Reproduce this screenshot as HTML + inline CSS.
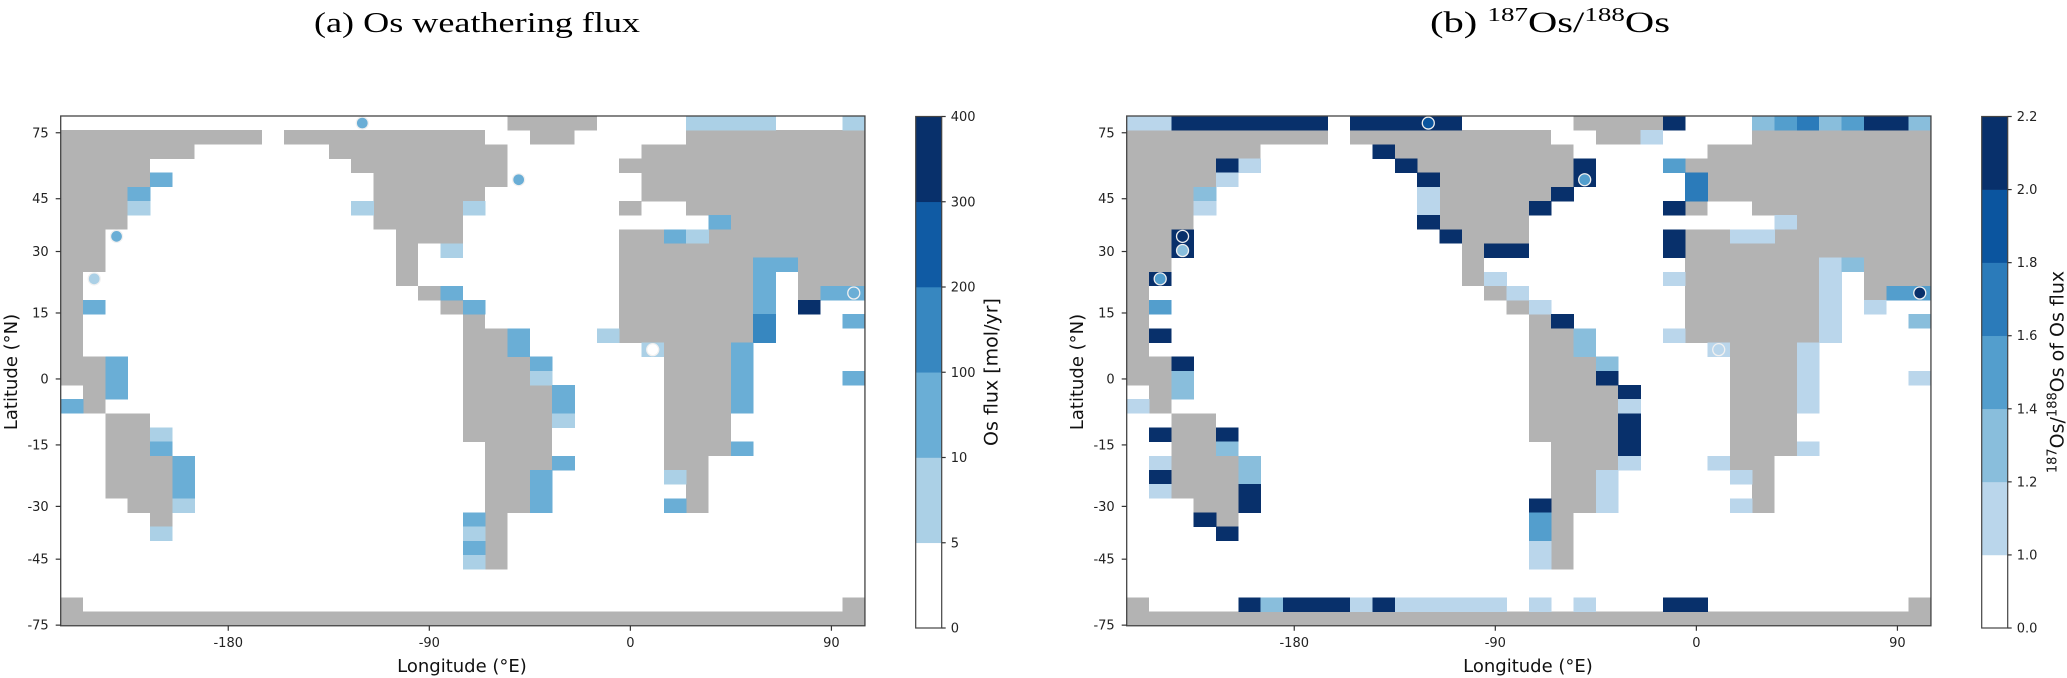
<!DOCTYPE html>
<html><head><meta charset="utf-8"><style>
html,body{margin:0;padding:0;background:#fff;}
svg{display:block;}
</style></head><body>
<svg id="fig" width="2067" height="678" viewBox="0 0 2067 678" xmlns="http://www.w3.org/2000/svg" font-family="'DejaVu Sans', 'Liberation Sans', sans-serif">
<text x="477" y="32" text-anchor="middle" font-family="'Liberation Serif', serif" font-size="29" textLength="326" lengthAdjust="spacingAndGlyphs">(a) Os weathering flux</text>
<text x="1430" y="32" font-family="'Liberation Serif', serif" font-size="30" textLength="240" lengthAdjust="spacingAndGlyphs">(b) <tspan font-size="20" dy="-11">187</tspan><tspan dy="11">Os/</tspan><tspan font-size="20" dy="-11">188</tspan><tspan dy="11">Os</tspan></text>
<g id="layer"></g>
</svg>
<script>
// ---- data ----
const landRanges = [
[0,20,23],
[1,0,8],[1,10,18],[1,21,22],[1,28,35],
[2,0,5],[2,12,19],[2,26,35],
[3,0,3],[3,13,19],[3,25,35],
[4,0,3],[4,14,19],[4,26,35],
[5,0,2],[5,14,18],[5,26,35],
[6,0,2],[6,14,17],[6,25,25],[6,28,35],
[7,0,2],[7,14,17],[7,30,35],
[8,0,1],[8,15,17],[8,25,26],[8,29,35],
[9,0,1],[9,15,15],[9,25,35],
[10,0,1],[10,15,15],[10,25,30],[10,33,35],
[11,0,0],[11,15,15],[11,25,30],[11,33,35],
[12,0,0],[12,16,16],[12,25,30],[12,33,33],
[13,0,0],[13,17,17],[13,25,30],
[14,0,0],[14,18,18],[14,25,30],
[15,0,0],[15,18,19],[15,25,30],
[16,0,0],[16,18,19],[16,27,29],
[17,0,1],[17,18,20],[17,27,29],
[18,0,1],[18,18,20],[18,27,29],
[19,1,1],[19,18,21],[19,27,29],
[20,1,1],[20,18,21],[20,27,29],
[21,2,3],[21,18,21],[21,27,29],
[22,2,3],[22,18,21],[22,27,29],
[23,2,3],[23,19,21],[23,27,29],
[24,2,4],[24,19,21],[24,27,28],
[25,2,4],[25,19,20],[25,28,28],
[26,2,4],[26,19,20],[26,28,28],
[27,3,4],[27,19,20],[27,28,28],
[28,4,4],[28,19,19],[29,19,19],[30,19,19],[31,19,19],
[34,0,0],[34,35,35],[35,0,35]
];
// panel a: [row, col, Os flux mol/yr]
const fluxCells = [
[0,28,7],[0,29,7],[0,30,7],[0,31,7],[0,35,7],
[4,4,50],[5,3,50],[6,3,7],[6,13,7],[6,18,7],[7,29,50],[8,27,50],[8,28,7],[9,17,7],
[10,31,50],[10,32,50],[11,31,50],[12,17,50],[12,31,50],[12,34,50],[12,35,50],
[13,1,50],[13,18,50],[13,31,50],[13,33,350],[14,31,150],[14,35,50],
[15,20,50],[15,24,7],[15,31,150],[16,20,50],[16,26,7],[16,30,50],
[17,2,50],[17,21,50],[17,30,50],[18,2,50],[18,21,7],[18,30,50],[18,35,50],
[19,2,50],[19,22,50],[19,30,50],[20,0,50],[20,22,50],[20,30,50],[21,22,7],
[22,4,7],[23,4,50],[23,30,50],[24,5,50],[24,22,50],[25,5,50],[25,21,50],[25,27,7],
[26,5,50],[26,21,50],[27,5,7],[27,21,50],[27,27,50],[28,18,50],[29,4,7],[29,18,7],[30,18,50],[31,18,7]
];
// panel b: [row, col, 187Os/188Os]
const ratioCells = [
[0,0,1.1],[0,1,1.1],[0,2,2.1],[0,3,2.1],[0,4,2.1],[0,5,2.1],[0,6,2.1],[0,7,2.1],[0,8,2.1],
[0,10,2.1],[0,11,2.1],[0,12,2.1],[0,13,2.1],[0,14,2.1],[0,24,2.1],[0,28,1.3],[0,29,1.5],[0,30,1.7],
[0,31,1.3],[0,32,1.5],[0,33,2.1],[0,34,2.1],[0,35,1.3],
[1,23,1.1],[2,11,2.1],[3,4,2.1],[3,5,1.1],[3,12,2.1],[3,20,2.1],[3,24,1.5],
[4,4,1.1],[4,13,2.1],[4,20,2.1],[4,25,1.7],[5,3,1.3],[5,13,1.1],[5,19,2.1],[5,25,1.7],
[6,3,1.1],[6,13,1.1],[6,18,2.1],[6,24,2.1],[7,13,2.1],[7,29,1.1],
[8,2,2.1],[8,14,2.1],[8,24,2.1],[8,27,1.1],[8,28,1.1],[9,2,2.1],[9,16,2.1],[9,17,2.1],[9,24,2.1],
[10,31,1.1],[10,32,1.3],[11,1,2.1],[11,16,1.1],[11,24,1.1],[11,31,1.1],
[12,17,1.1],[12,31,1.1],[12,34,1.5],[12,35,1.5],[13,1,1.5],[13,18,1.1],[13,31,1.1],[13,33,1.1],
[14,19,2.1],[14,31,1.1],[14,35,1.3],[15,1,2.1],[15,20,1.3],[15,24,1.1],[15,31,1.1],
[16,20,1.3],[16,26,1.1],[16,30,1.1],[17,2,2.1],[17,21,1.3],[17,30,1.1],
[18,2,1.3],[18,21,2.1],[18,30,1.1],[18,35,1.1],[19,2,1.3],[19,22,2.1],[19,30,1.1],
[20,0,1.1],[20,22,1.1],[20,30,1.1],[21,22,2.1],[22,1,2.1],[22,4,2.1],[22,22,2.1],
[23,4,1.3],[23,22,2.1],[23,30,1.1],[24,1,1.1],[24,5,1.3],[24,22,1.1],[24,26,1.1],
[25,1,2.1],[25,5,1.3],[25,21,1.1],[25,27,1.1],[26,1,1.1],[26,5,2.1],[26,21,1.1],
[27,5,2.1],[27,18,2.1],[27,21,1.1],[27,27,1.1],[28,3,2.1],[28,18,1.5],[29,4,2.1],[29,18,1.5],
[30,18,1.1],[31,18,1.1],
[34,5,2.1],[34,6,1.3],[34,7,2.1],[34,8,2.1],[34,9,2.1],[34,10,1.1],[34,11,2.1],
[34,12,1.1],[34,13,1.1],[34,14,1.1],[34,15,1.1],[34,16,1.1],[34,18,1.1],[34,20,1.1],[34,24,2.1],[34,25,2.1]
];
// site markers: [row, col, value]
const fluxSites = [[0,13,50],[4,20,50],[8,2,50],[11,1,7],[16,26,0],[12,35,50]];
const ratioSites = [[0,13,1.9],[8,2,2.1],[9,2,1.3],[11,1,1.5],[4,20,1.5],[16,26,1.1],[12,35,2.1]];
const fluxBounds = [0,5,10,100,200,300,400];
const fluxColors = ['#ffffff','#abd0e6','#6aaed6','#3787c0','#105ba4','#08306b'];
const ratioBounds = [0.0,1.0,1.2,1.4,1.6,1.8,2.0,2.2];
const ratioColors = ['#ffffff','#bad6eb','#89bedc','#539ecd','#2b7bba','#0b559f','#08306b'];
const lonTicks = [-180,-90,0,90];
const latTicks = [75,45,30,15,0,-15,-30,-45,-75];

// ---- drawing ----
const NS='http://www.w3.org/2000/svg';
const layer=document.getElementById('layer');
function mk(tag,attrs,parent){const e=document.createElementNS(NS,tag);for(const k in attrs)e.setAttribute(k,attrs[k]);(parent||layer).appendChild(e);return e;}
const T=116, CW=22.34, RH=14.16, NC=36, NR=36;
function colorFor(v,b,c){for(let i=0;i<c.length;i++){if(v>=b[i]&&v<b[i+1])return c[i];}return c[c.length-1];}

function panel(ox,key,cells,sites,bounds,colors,cbx,cbLabel){
  const L=60.7+ox;
  const xCol=c=>L+c*CW, yRow=r=>T+r*RH;
  const xLon=lon=>L+(lon+255)/10*CW;
  const yLat=lat=>T+(18.57-18*Math.sin(lat*Math.PI/180))*RH;
  const g=mk('g',{'shape-rendering':'crispEdges'});
  
  
  landRanges.forEach(([r,c0,c1])=>{
    const e=mk('rect',{x:xCol(c0),y:yRow(r),width:(c1-c0+1)*CW,height:RH+0.3,fill:'#b3b3b3'},g);
    
    
  });
  cells.forEach(([r,c,v])=>{
    const e=mk('rect',{x:xCol(c),y:yRow(r),width:CW+0.3,height:RH+0.3,fill:colorFor(v,bounds,colors)},g);
    
    
  });
  sites.forEach(([r,c,v])=>{
    const e=mk('circle',{cx:xCol(c)+CW/2,cy:yRow(r)+RH/2,r:6,fill:colorFor(v,bounds,colors),stroke:'#f0f0f0','stroke-width':1.3});
    
    
  });
  const W=NC*CW,H=NR*RH;
  const fr=mk('rect',{x:L,y:T,width:W,height:H,fill:'none',stroke:'#444','stroke-width':1.3});
  
  
  lonTicks.forEach(v=>{
    const x=xLon(v);
    mk('line',{x1:x,y1:T+H,x2:x,y2:T+H+5,stroke:'#333','stroke-width':1.2});
    const t=mk('text',{x:x,y:T+H+21,'text-anchor':'middle','font-size':13,fill:'#222'});
    t.textContent=v;
    
    
  });
  latTicks.forEach(v=>{
    const y=yLat(v);
    mk('line',{x1:L-5,y1:y,x2:L,y2:y,stroke:'#333','stroke-width':1.2});
    const t=mk('text',{x:L-12,y:y+4.5,'text-anchor':'end','font-size':13,fill:'#222'});
    t.textContent=v;
    
    
  });
  const xt=mk('text',{x:462+ox,y:672,'text-anchor':'middle','font-size':18,fill:'#111'});
  xt.textContent='Longitude (\u00B0E)';
  
  
  const yt=mk('text',{x:0,y:0,'text-anchor':'middle','font-size':18,fill:'#111',transform:`translate(${17+ox},372) rotate(-90)`});
  yt.textContent='Latitude (\u00B0N)';
  
  
  // colorbar
  const cbT=116.5, cbB=628, cbW=26, n=colors.length, bh=(cbB-cbT)/n;
  const cb=mk('g',{});
  
  
  colors.forEach((col,i)=>{
    const e=mk('rect',{x:cbx,y:cbB-(i+1)*bh,width:cbW,height:bh+0.3,fill:col},cb);
    
    
  });
  mk('rect',{x:cbx,y:cbT,width:cbW,height:cbB-cbT,fill:'none',stroke:'#444','stroke-width':1.2},cb);
  bounds.forEach((b,i)=>{
    const y=cbB-i*bh;
    mk('line',{x1:cbx+cbW,y1:y,x2:cbx+cbW+4,y2:y,stroke:'#333','stroke-width':1.2},cb);
    const t=mk('text',{x:cbx+cbW+9,y:y+4.5,'font-size':13,fill:'#222'},cb);
    t.textContent=(key==='b')?b.toFixed(1):b;
    
    
  });
  const lt=mk('text',{x:0,y:0,'text-anchor':'middle','font-size':19,fill:'#111',transform:`translate(${cbx+cbW+56},372) rotate(-90)`},cb);
  lt.innerHTML=cbLabel;
  
  
}
panel(0,'a',fluxCells,fluxSites,fluxBounds,fluxColors,915.7,'Os flux [mol/yr]');
panel(1066,'b',ratioCells,ratioSites,ratioBounds,ratioColors,1981.7,'<tspan font-size="13" dy="-7">187</tspan><tspan dy="7">Os/</tspan><tspan font-size="13" dy="-7">188</tspan><tspan dy="7">Os of Os flux</tspan>');
</script>
</body></html>
